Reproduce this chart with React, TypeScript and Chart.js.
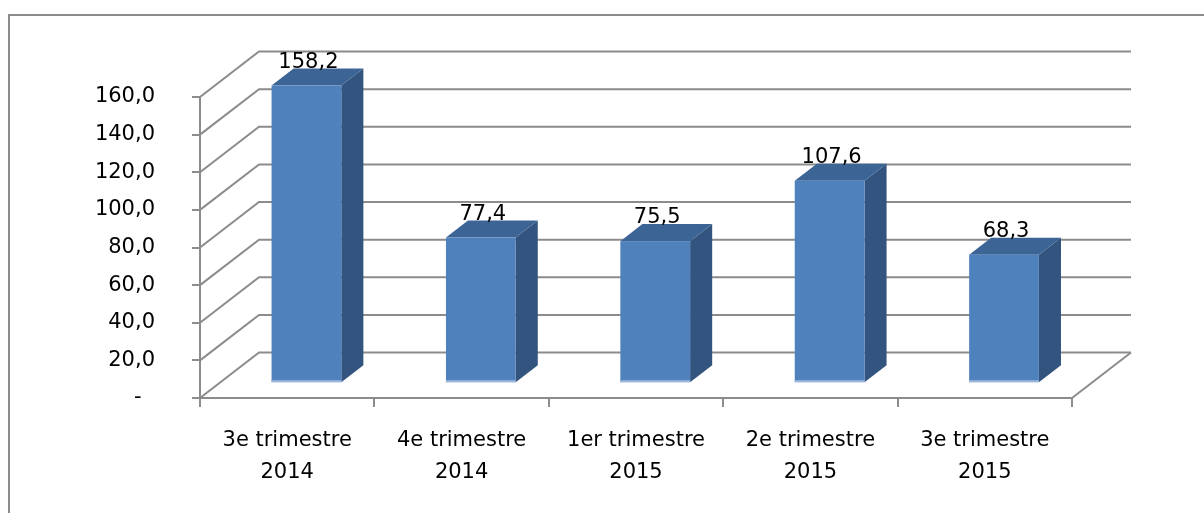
import React, { useEffect, useRef } from "react";
import { Chart, registerables } from "chart.js";

Chart.register(...registerables);

const categories: string[][] = [
  ["3e trimestre", "2014"],
  ["4e trimestre", "2014"],
  ["1er trimestre", "2015"],
  ["2e trimestre", "2015"],
  ["3e trimestre", "2015"],
];
const values: number[] = [158.2, 77.4, 75.5, 107.6, 68.3];
const yMin = 0;
const yMax = 160;
const yStep = 20;

const GRID = "#8C8C8C";
const FRONT = "#4F81BD";
const TOP = "#3C6596";
const SIDE = "#33547F";
const DX = 59;
const DY = -45.5;
const F1 = 0.326;
const F2 = 0.70;

const fmt = (v: number) => (v === 0 ? "-  " : v.toFixed(1).replace(".", ","));

const threeD = {
  id: "threeD",
  beforeDraw(chart: any) {
    const ctx = chart.ctx;
    ctx.save();
    ctx.fillStyle = "#fff";
    ctx.fillRect(0, 0, chart.width, chart.height);
    ctx.strokeStyle = GRID;
    ctx.lineWidth = 2;
    ctx.beginPath();
    ctx.moveTo(9, chart.height + 2);
    ctx.lineTo(9, 15);
    ctx.lineTo(chart.width + 2, 15);
    ctx.stroke();
    ctx.restore();
  },
  beforeDatasetsDraw(chart: any) {
    const ctx = chart.ctx;
    const y = chart.scales.y;
    const { left, right, bottom } = chart.chartArea;
    ctx.save();
    ctx.strokeStyle = GRID;
    ctx.lineWidth = 2;
    ctx.lineCap = "butt";
    for (const t of y.ticks) {
      const py = y.getPixelForValue(t.value);
      ctx.beginPath();
      ctx.moveTo(left, py);
      ctx.lineTo(left + DX, py + DY);
      ctx.lineTo(right + DX, py + DY);
      ctx.stroke();
    }
    ctx.beginPath();
    ctx.moveTo(right, bottom);
    ctx.lineTo(right + DX, bottom + DY);
    ctx.stroke();
    ctx.restore();
  },
  afterDatasetsDraw(chart: any) {
    const ctx = chart.ctx;
    const meta = chart.getDatasetMeta(0);
    const bdx = F1 * DX;
    const bdy = F1 * DY;
    const ddx = (F2 - F1) * DX;
    const ddy = (F2 - F1) * DY;
    ctx.save();
    meta.data.forEach((el: any, i: number) => {
      const { x, y, base, width } = el.getProps(["x", "y", "base", "width"], true);
      const x0 = x - width / 2 + bdx;
      const x1 = x + width / 2 + bdx;
      const top = y + bdy;
      const bot = base + bdy;
      // side
      ctx.fillStyle = SIDE;
      ctx.beginPath();
      ctx.moveTo(x1, top);
      ctx.lineTo(x1 + ddx, top + ddy);
      ctx.lineTo(x1 + ddx, bot + ddy);
      ctx.lineTo(x1, bot);
      ctx.closePath();
      ctx.fill();
      // top
      ctx.fillStyle = TOP;
      ctx.beginPath();
      ctx.moveTo(x0, top);
      ctx.lineTo(x1, top);
      ctx.lineTo(x1 + ddx, top + ddy);
      ctx.lineTo(x0 + ddx, top + ddy);
      ctx.closePath();
      ctx.fill();
      // front
      ctx.fillStyle = FRONT;
      ctx.fillRect(x0, top, x1 - x0, bot - top);
      ctx.fillStyle = "#9AB6DC";
      ctx.fillRect(x0, bot - 2, x1 - x0, 2);
      // label
      ctx.fillStyle = "#000";
      ctx.font = "21px 'DejaVu Sans'";
      ctx.textAlign = "center";
      ctx.textBaseline = "alphabetic";
      ctx.fillText(fmt(values[i]), (x0 + x1) / 2 + 2, top + ddy - 1);
    });
    ctx.restore();
  },
};

export default function App() {
  const ref = useRef<HTMLCanvasElement | null>(null);
  useEffect(() => {
    if (!ref.current) return;
    Chart.defaults.font.family = "'DejaVu Sans'";
    Chart.defaults.font.size = 21;
    Chart.defaults.color = "#000";
    const chart = new Chart(ref.current, {
      type: "bar",
      data: {
        labels: categories,
        datasets: [
          {
            data: values,
            backgroundColor: "rgba(0,0,0,0)",
            borderWidth: 0,
            barPercentage: 0.4,
            categoryPercentage: 1,
          },
        ],
      },
      options: {
        responsive: false,
        animation: false,
        events: [],
        layout: { padding: { top: 97, right: 132, left: 0, bottom: 0 } },
        plugins: { legend: { display: false }, tooltip: { enabled: false } },
        scales: {
          x: {
            grid: { drawOnChartArea: false, drawTicks: true, tickLength: 9, color: GRID, lineWidth: 2, offset: true },
            border: { display: true, color: GRID, width: 2 },
            ticks: { padding: 18, maxRotation: 0, autoSkip: false, font: { size: 21, lineHeight: 1.52 } },
            afterFit: (s: any) => {
              s.height = 115;
            },
          },
          y: {
            min: yMin,
            max: yMax,
            grid: { drawOnChartArea: false, drawTicks: true, tickLength: 8, color: GRID, lineWidth: 2 },
            border: { display: true, color: GRID, width: 2 },
            ticks: { stepSize: yStep, padding: 37, callback: (v: any) => fmt(Number(v)) },
            afterFit: (s: any) => {
              s.width = 200;
            },
          },
        },
      },
      plugins: [threeD],
    });
    return () => chart.destroy();
  }, []);
  return (
    <div style={{ position: "fixed", left: 0, top: 0, width: 1204, height: 513, background: "#fff" }}>
      <canvas ref={ref} width={1204} height={513} />
    </div>
  );
}
